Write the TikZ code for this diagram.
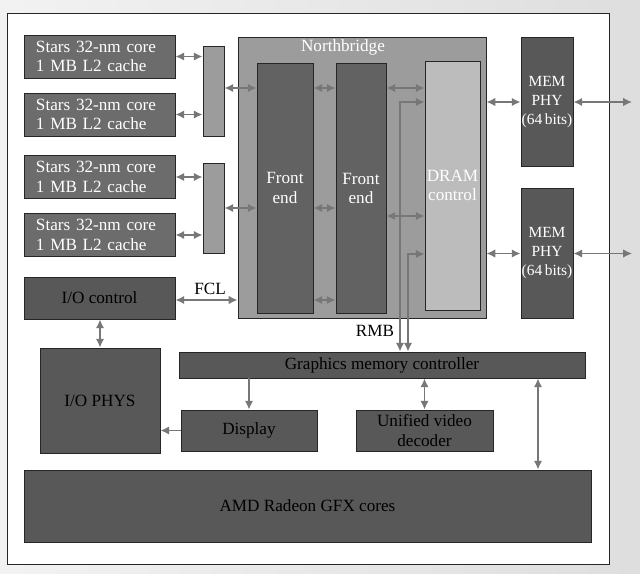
\documentclass[tikz,border=0pt]{standalone}
\usepackage{fontspec}
\setmainfont{Liberation Serif}
\usetikzlibrary{arrows.meta,calc}
\definecolor{coregray}{HTML}{6C6C6C}
\definecolor{blockgray}{HTML}{585858}
\definecolor{fegray}{HTML}{626262}
\definecolor{nbgray}{HTML}{9C9C9C}
\definecolor{dramgray}{HTML}{BCBCBC}
\definecolor{linkgray}{HTML}{777777}
\definecolor{edgegray}{HTML}{262626}

\begin{document}
\begin{tikzpicture}[x=0.025cm,y=-0.025cm,>=Latex,
 blk/.style={draw=edgegray,line width=0.6pt,inner sep=2pt,align=center,font=\fontsize{12.2}{14}\selectfont},
 core/.style={blk,fill=coregray,text=white,text width=3.175cm,inner xsep=0.3cm,minimum height=1.075cm,align=left},
 bar/.style={blk,fill=nbgray,minimum width=0.525cm,minimum height=2.25cm},
 col/.style={blk,fill=fegray,text=white,minimum height=6.25cm},
 mem/.style={blk,fill=blockgray,text=white,minimum width=1.3cm,minimum height=3.24cm,inner xsep=0pt,font=\fontsize{11}{13.5}\selectfont},
 dark/.style={blk,fill=blockgray,text=black},
 lbl/.style={font=\fontsize{12.2}{14}\selectfont,inner sep=1pt},
 a/.style={{Latex[length=2.2mm,width=2.1mm]}-{Latex[length=2.2mm,width=2.1mm]},line width=1.1pt,linkgray},
 a1/.style={-{Latex[length=2.2mm,width=2.1mm]},line width=1.1pt,linkgray}]
\useasboundingbox (0,0) rectangle (640,574);
\shade[left color=gray!10,right color=gray!26] (0,0) rectangle (640,574);
\draw[edgegray,fill=white,line width=0.7pt] (7,13) rectangle (609,564);

% cores and crossbars
\node[core] (c1) at (99.5,56.5) {Stars 32-nm core\\1 MB L2 cache};
\node[core] (c2) at (99.5,114.5) {Stars 32-nm core\\1 MB L2 cache};
\node[core] (c3) at (99.5,177) {Stars 32-nm core\\1 MB L2 cache};
\node[core] (c4) at (99.5,235) {Stars 32-nm core\\1 MB L2 cache};
\node[bar] (b1) at (213.5,91) {};
\node[bar] (b2) at (213.5,208) {};

% northbridge
\node[blk,fill=nbgray,minimum width=6.2cm,minimum height=7.025cm] (nb) at (362,177.5) {};
\node[lbl,text=white] (nbl) at (343,47) {Northbridge};
\node[col,minimum width=1.4cm] (f1) at (285,188) {Front\\end};
\node[col,minimum width=1.25cm] (f2) at (361,188.5) {Front\\end};
\node[blk,fill=dramgray,text=white,minimum width=1.375cm,minimum height=6.225cm,inner xsep=1pt] (dram) at (452.5,185.5) {DRAM\\control};
\node[mem] (m1) at (547,102) {MEM\\PHY\\(64\,bits)};
\node[mem] (m2) at (547,253.5) {MEM\\PHY\\(64\,bits)};

% I/O and graphics
\node[dark,minimum width=3.775cm,minimum height=1.05cm] (ioc) at (99.5,298) {I/O control};
\node[dark,minimum width=3.0cm,minimum height=2.625cm] (iop) at (100,400.5) {I/O PHYS};
\node[dark,minimum width=10.15cm,minimum height=0.65cm,inner sep=0pt] (gmc) at (382,365) {Graphics memory controller};
\node[dark,minimum width=3.4cm,minimum height=1.025cm] (disp) at (249,430.5) {Display};
\node[dark,minimum width=3.425cm,minimum height=1.025cm,inner sep=1pt] (uvd) at (424.5,430.5) {Unified video\\decoder};
\node[dark,minimum width=14.175cm,minimum height=1.8cm] (gfx) at (307.5,506) {AMD Radeon GFX cores};

\coordinate (r1) at (0,88); \coordinate (r2) at (0,208); \coordinate (r3) at (0,300);
\coordinate (r4) at (0,216);
\coordinate (k1) at (400,102); \coordinate (k2) at (408,254);
\coordinate (o1) at (632,0); \coordinate (g1) at (538,0);

\draw[a] (c1.east) -- (c1.east -| b1.west);
\draw[a] (c2.east) -- (c2.east -| b1.west);
\draw[a] (c3.east) -- (c3.east -| b2.west);
\draw[a] (c4.east) -- (c4.east -| b2.west);
\draw[a] (b1.east |- r1) -- (f1.west |- r1);
\draw[a] (b2.east |- r2) -- (f1.west |- r2);
\draw[a] (f1.east |- r1) -- (f2.west |- r1);
\draw[a] (f1.east |- r2) -- (f2.west |- r2);
\draw[a] (f1.east |- r3) -- (f2.west |- r3);
\draw[a] (f2.east |- r1) -- (dram.west |- r1);
\draw[a] (f2.east |- r4) -- (dram.west |- r4);
\draw[a] (gmc.north -| k1) |- (dram.west |- k1);
\draw[a] (gmc.north -| k2) |- (dram.west |- k2);
\node[lbl] (rmb) at (375,331) {RMB};
\draw[a] (m1.west -| nb.east) -- (m1.west);
\draw[a] (m2.west -| nb.east) -- (m2.west);
\draw[a] (m1.east) -- (m1.east -| o1);
\draw[a] (m2.east) -- (m2.east -| o1);
\draw[a] (ioc.east |- r3) -- (nb.west |- r3);
\node[lbl] (fcl) at (210,289) {FCL};
\draw[a] (ioc.south -| iop.north) -- (iop.north);
\draw[a1] (gmc.south -| disp.north) -- (disp.north);
\draw[a1] (disp.west) -- (disp.west -| iop.east);
\draw[a] (gmc.south -| uvd.north) -- (uvd.north);
\draw[a] (gmc.south -| g1) -- (gfx.north -| g1);
\end{tikzpicture}
\end{document}
